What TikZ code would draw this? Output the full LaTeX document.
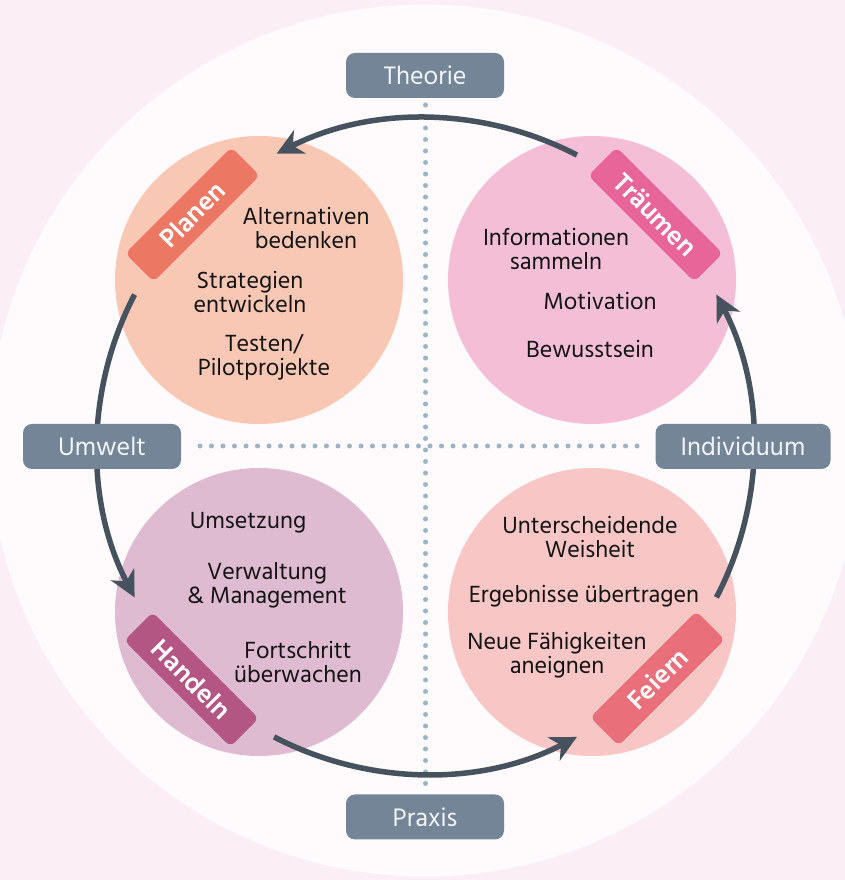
\documentclass[tikz,border=0pt]{standalone}
\usepackage{fontspec}
\setmainfont{Hind Madurai}
\usetikzlibrary{arrows.meta,calc}

\definecolor{bgpink}{HTML}{FCEEF5}
\definecolor{disc}{HTML}{FFFAFC}
\definecolor{planenfill}{HTML}{F8C8B5}
\definecolor{planentag}{HTML}{EC7762}
\definecolor{traumfill}{HTML}{F4BFD6}
\definecolor{traumtag}{HTML}{E8659A}
\definecolor{handelnfill}{HTML}{DEBBD0}
\definecolor{handelntag}{HTML}{B35683}
\definecolor{feiernfill}{HTML}{F7C6C5}
\definecolor{feierntag}{HTML}{E9707B}
\definecolor{slate}{HTML}{738596}
\definecolor{labeltext}{HTML}{F2F5F8}
\definecolor{arrowc}{HTML}{46535F}
\definecolor{dotc}{HTML}{9CB4C6}
\definecolor{ink}{HTML}{141414}

\tikzset{
  phase/.style={circle, minimum size=288pt, inner sep=0pt},
  tagbox/.style={rectangle, rounded corners=6pt, minimum width=150pt,
    minimum height=40pt, inner sep=0pt, text=white,
    font=\fontsize{27}{28}\selectfont\bfseries},
  axislabel/.style={rectangle, rounded corners=9pt, fill=slate, text=labeltext,
    minimum height=45pt, minimum width=158pt, inner sep=0pt,
    font=\fontsize{26}{28}\selectfont},
  itemtext/.style={align=center, text=ink, inner sep=0pt,
    font=\fontsize{24}{24}\selectfont},
  cyclearrow/.style={draw=arrowc, line width=5.5pt,
    -{Stealth[length=26pt,width=26pt,inset=8pt]}},
  dotline/.style={draw=dotc, line width=5pt, line cap=round,
    dash pattern=on 0pt off 11.5pt}
}

\begin{document}
\begin{tikzpicture}[x=1pt,y=1pt]
  \useasboundingbox (0,0) rectangle (845,880);
  \clip (0,0) rectangle (845,880);

  % background and central disc
  \fill[bgpink] (0,0) rectangle (845,880);
  \fill[disc] (425,439.5) circle[radius=436];

  % centre of the cycle
  \coordinate (C) at (425.5,434);

  % dotted axes
  \coordinate (vtop) at (425.5,775);
  \coordinate (vbot) at (425.5,94);
  \coordinate (hleft) at (200,434);
  \coordinate (hright) at (644,434);
  \draw[dotline] (vtop) -- (vbot);
  \draw[dotline] (hleft) -- (hright);

  % four phase circles
  \node[phase, fill=planenfill]  (planen)  at (259,600) {};
  \node[phase, fill=traumfill]   (traum)   at (592,600) {};
  \node[phase, fill=handelnfill] (handeln) at (259,268) {};
  \node[phase, fill=feiernfill]  (feiern)  at (592,268) {};

  % cycle arrows
  \coordinate (a1) at ($(C)+(62.5:328)$);
  \coordinate (a2) at ($(C)+(152.5:328)$);
  \coordinate (a3) at ($(C)+(242.5:328)$);
  \coordinate (a4) at ($(C)+(332.5:328)$);
  \draw[cyclearrow] (a1) arc[start angle=62.5, end angle=117, radius=328];
  \draw[cyclearrow] (a2) arc[start angle=152.5, end angle=207.5, radius=328];
  \draw[cyclearrow] (a3) arc[start angle=242.5, end angle=297.5, radius=328];
  \draw[cyclearrow] (a4) arc[start angle=332.5, end angle=387.5, radius=328];

  % phase tags
  \node[tagbox, fill=planentag,  rotate=45]  (tplanen)  at (192.5,665.5) {Planen};
  \node[tagbox, fill=traumtag,   rotate=-45] (ttraum)   at (655.5,665.5) {Träumen};
  \node[tagbox, fill=handelntag, rotate=-45] (thandeln) at (191.5,200.5) {Handeln};
  \node[tagbox, fill=feierntag,  rotate=45]  (tfeiern)  at (657.5,201.5) {Feiern};

  % Planen
  \node[itemtext] (p1) at (306,652)   {Alternativen\\bedenken};
  \node[itemtext] (p2) at (250,587.5) {Strategien\\entwickeln};
  \node[itemtext] (p3) at (264,523)   {Testen/\\Pilotprojekte};

  % Träumen
  \node[itemtext] (r1) at (556,631) {Informationen\\sammeln};
  \node[itemtext] (r2) at (600,579) {Motivation};
  \node[itemtext] (r3) at (590,531) {Bewusstsein};

  % Handeln
  \node[itemtext] (h1) at (248,357) {Umsetzung};
  \node[itemtext] (h2) at (267,295) {Verwaltung\\\& Management};
  \node[itemtext] (h3) at (298,218) {Fortschritt\\überwachen};

  % Feiern
  \node[itemtext] (f1) at (590,343) {Unterscheidende\\Weisheit};
  \node[itemtext] (f2) at (584,284) {Ergebnisse übertragen};
  \node[itemtext] (f3) at (557,225) {Neue Fähigkeiten\\aneignen};

  % axis labels
  \node[axislabel] (theorie) at (425,804.5) {Theorie};
  \node[axislabel] (praxis)  at (425,63)    {Praxis};
  \node[axislabel] (umwelt)  at (102,433.5) {Umwelt};
  \node[axislabel, minimum width=175pt] (indiv) at (743,433.5) {Individuum};
\end{tikzpicture}
\end{document}
